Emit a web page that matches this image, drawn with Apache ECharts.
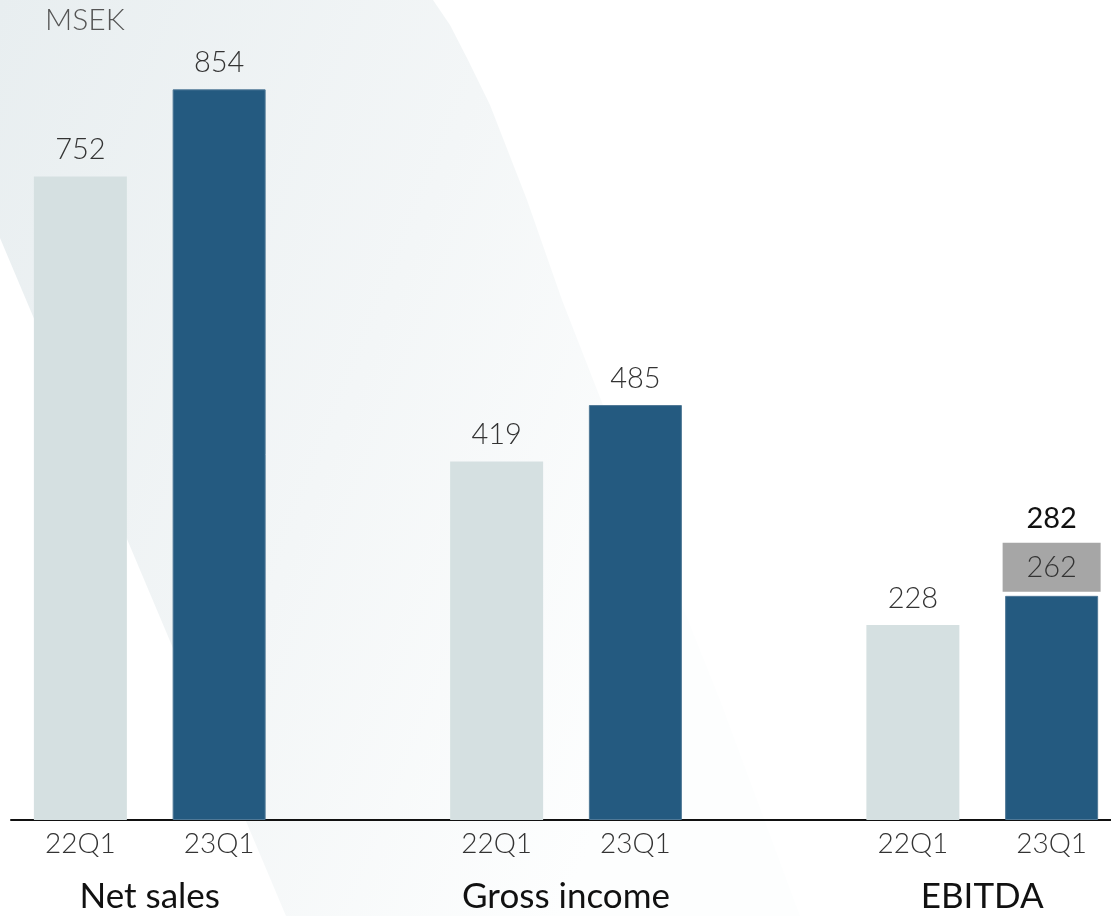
<!DOCTYPE html>
<html>
<head>
<meta charset="utf-8">
<script src="https://cdn.jsdelivr.net/npm/echarts@6/dist/echarts.min.js"></script>
<style>
  html, body { margin: 0; padding: 0; background: #ffffff; }
  #chart { width: 1111px; height: 916px; }
</style>
</head>
<body>
<div id="chart"></div>
<script>
// Quarter labels per slot; empty slots separate the three metric groups
const quarters = ['22Q1', '23Q1', '', '22Q1', '23Q1', '', '22Q1', '23Q1'];
const groups = ['Net sales', 'Gross income', 'EBITDA'];
// MSEK values: Net sales, Gross income, EBITDA
const prevYear = [752, 419, 228];
const currYear = [854, 485, 262];
// Adjusted EBITDA shown above the current-year EBITDA bar
const adjustedEbitda = 282;
const unitLabel = 'MSEK';

const FONT = 'Lato, "Noto Sans", sans-serif';
const LIGHT = '#d5e0e1';
const DARK = '#245a80';

// Place each group's pair into its slots on the category axis
const prevData = quarters.map(() => null);
const currData = quarters.map(() => null);
groups.forEach((g, i) => {
  prevData[i * 3] = prevYear[i];
  currData[i * 3 + 1] = currYear[i];
});
const ebitdaSlot = 7;

const chart = echarts.init(document.getElementById('chart'), null, { renderer: 'canvas' });

const valueLabel = {
  show: true,
  position: 'top',
  distance: 12,
  fontFamily: FONT,
  fontWeight: 300,
  fontSize: 29,
  color: '#333333'
};

const option = {
  backgroundColor: '#ffffff',
  animation: false,
  grid: {
    left: 11, top: 50, bottom: 96, width: 1110,
    outerBoundsMode: 'none'
  },
  xAxis: {
    type: 'category',
    data: quarters,
    axisLine: { show: true, lineStyle: { color: '#111111', width: 2 } },
    axisTick: { show: false },
    axisLabel: {
      interval: 0,
      margin: 10,
      fontFamily: FONT,
      fontWeight: 300,
      fontSize: 28,
      color: '#333333'
    }
  },
  yAxis: {
    type: 'value',
    min: 0,
    max: 900,
    show: false,
    splitLine: { show: false }
  },
  series: [
    {
      name: '22Q1',
      type: 'bar',
      data: prevData,
      barWidth: 93,
      barGap: '-100%',
      itemStyle: { color: LIGHT },
      label: valueLabel,
      z: 3
    },
    {
      name: '23Q1',
      type: 'bar',
      data: currData.map((v, i) => {
        if (i !== ebitdaSlot) return v;
        return {
          value: v,
          label: {
            distance: 4,
            formatter: () => '{adj|' + adjustedEbitda + '}\n{box|' + v + '}',
            rich: {
              adj: {
                fontFamily: FONT,
                fontWeight: 400,
                fontSize: 29,
                color: '#111111',
                height: 48,
                align: 'center'
              },
              box: {
                fontFamily: FONT,
                fontWeight: 300,
                fontSize: 29,
                color: '#333333',
                backgroundColor: '#a6a6a6',
                width: 98,
                height: 49,
                align: 'center'
              }
            }
          }
        };
      }),
      barWidth: 93,
      itemStyle: { color: DARK, borderColor: '#4f7896', borderWidth: 1 },
      label: valueLabel,
      z: 3
    }
  ],
  graphic: [
    {
      // soft diagonal backdrop band
      type: 'polygon',
      z: -10,
      silent: true,
      shape: {
        points: [
          [0, 0], [433, 0], [450, 25], [468, 60], [490, 105], [527, 200],
          [562, 300], [640, 500], [720, 700], [800, 916], [286, 916], [0, 238]
        ]
      },
      style: {
        fill: new echarts.graphic.LinearGradient(0, 0, 1, 0.35, [
          { offset: 0, color: '#e8eef0' },
          { offset: 0.55, color: '#f3f6f7' },
          { offset: 1, color: '#fdfefe' }
        ])
      }
    },
    {
      type: 'text',
      left: 45,
      top: 5,
      style: {
        text: unitLabel,
        fontFamily: FONT,
        fontWeight: 300,
        fontSize: 30,
        fill: '#555555'
      }
    }
  ]
};

chart.setOption(option);

// Group titles centred under each pair of bars, positioned through the axis scale
const groupTexts = groups.map((g, i) => {
  const a = chart.convertToPixel({ xAxisIndex: 0 }, i * 3);
  const b = chart.convertToPixel({ xAxisIndex: 0 }, i * 3 + 1);
  return {
    type: 'text',
    x: (a + b) / 2,
    y: 897,
    style: {
      text: g,
      fontFamily: FONT,
      fontWeight: 400,
      fontSize: 35,
      fill: '#111111',
      align: 'center',
      verticalAlign: 'middle'
    }
  };
});
chart.setOption({ graphic: option.graphic.concat(groupTexts) });
</script>
</body>
</html>
